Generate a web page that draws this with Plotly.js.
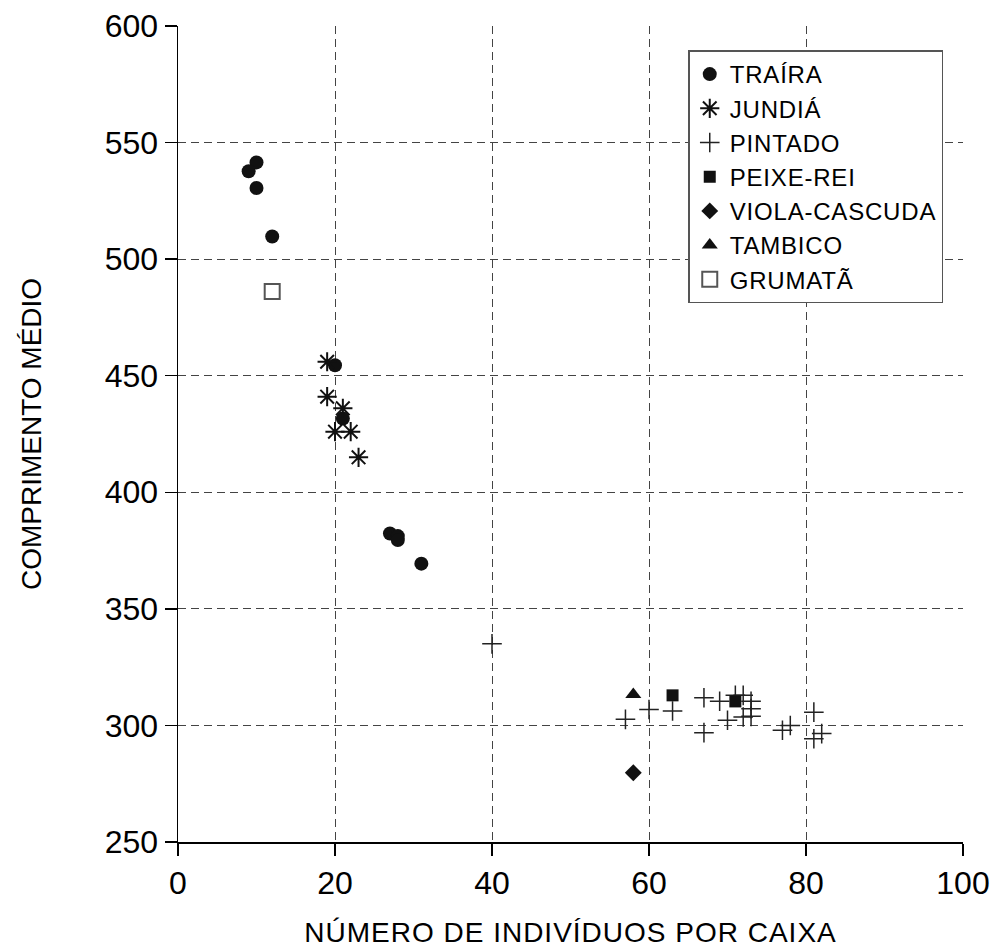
<!DOCTYPE html>
<html>
<head>
<meta charset="utf-8">
<script src="https://cdn.plot.ly/plotly-3.0.1.min.js"></script>
<style>
html,body{margin:0;padding:0;background:#fff;}
#chart{width:1003px;height:951px;}
.legendtext{letter-spacing:0.8px;}
.xtitle{letter-spacing:1px;}
</style>
</head>
<body>
<div id="chart"></div>
<script>
// ---- data ----
const trairaX = [10, 9, 10, 12, 20, 21, 27, 28, 28, 31];
const trairaY = [541.5, 537.7, 530.5, 509.7, 454.5, 431.6, 382.3, 381.2, 379.5, 369.4];

const jundiaX = [19, 19, 21, 20, 22, 23];
const jundiaY = [456, 441, 436, 426, 426, 415];

const pintadoX = [40, 57, 60, 63, 67, 67, 69, 70, 71, 72, 72, 73, 73, 73, 77, 78, 81, 81, 82];
const pintadoY = [335, 302.6, 306.8, 306.2, 311.9, 296.9, 310.4, 302.2, 312.9, 312.9, 303.6, 310.4, 307.2, 303.9, 297.9, 300, 305.7, 294.3, 296.5];

const peixeReiX = [63, 71];
const peixeReiY = [312.9, 310.3];

const violaX = [58];
const violaY = [279.7];

const tambicoX = [58];
const tambicoY = [313.3];

const grumataX = [12];
const grumataY = [486.1];

const xTicks = [0, 20, 40, 60, 80, 100];
const yTicks = [250, 300, 350, 400, 450, 500, 550, 600];

const names = ['TRAÍRA', 'JUNDIÁ', 'PINTADO', 'PEIXE-REI', 'VIOLA-CASCUDA', 'TAMBICO', 'GRUMATÃ'];

// ---- traces ----
const traces = [
  {x: trairaX, y: trairaY, name: names[0], type: 'scatter', mode: 'markers',
   marker: {symbol: 'circle', size: 14, color: '#111'}},
  {x: jundiaX, y: jundiaY, name: names[1], type: 'scatter', mode: 'markers',
   marker: {symbol: 'asterisk-open', size: 16, color: '#111', line: {color: '#111', width: 2}}},
  {x: pintadoX, y: pintadoY, name: names[2], type: 'scatter', mode: 'markers',
   marker: {symbol: 'cross-thin-open', size: 14, color: '#222', line: {color: '#222', width: 1.5}}},
  {x: peixeReiX, y: peixeReiY, name: names[3], type: 'scatter', mode: 'markers',
   marker: {symbol: 'square', size: 12, color: '#111'}},
  {x: violaX, y: violaY, name: names[4], type: 'scatter', mode: 'markers',
   marker: {symbol: 'diamond', size: 13, color: '#111'}},
  {x: tambicoX, y: tambicoY, name: names[5], type: 'scatter', mode: 'markers',
   marker: {symbol: 'triangle-up', size: 14, color: '#111'}},
  {x: grumataX, y: grumataY, name: names[6], type: 'scatter', mode: 'markers',
   marker: {symbol: 'square-open', size: 15, color: '#555', line: {color: '#555', width: 2}}}
];

const fontFam = 'Liberation Sans, Arial, sans-serif';

const layout = {
  width: 1003, height: 951,
  margin: {l: 178, r: 40, t: 26, b: 109, pad: 0},
  paper_bgcolor: '#fff', plot_bgcolor: '#fff',
  font: {family: fontFam, color: '#000'},
  showlegend: true,
  legend: {
    x: 0.65, y: 0.97, xanchor: 'left', yanchor: 'top',
    bgcolor: '#fff', bordercolor: '#555', borderwidth: 1.5,
    font: {family: fontFam, size: 24, color: '#000'},
    itemwidth: 30, tracegroupgap: 0
  },
  xaxis: {
    range: [0, 100], tickvals: xTicks, ticktext: xTicks.map(String),
    showgrid: true, gridcolor: '#444', gridwidth: 1, griddash: '8px,5px',
    zeroline: false, showline: true, linecolor: '#000', linewidth: 1.5,
    ticks: 'outside', ticklen: 12, tickcolor: '#000', tickwidth: 1.5,
    tickfont: {family: fontFam, size: 32, color: '#000'},
    title: {text: 'NÚMERO DE INDIVÍDUOS POR CAIXA', font: {family: fontFam, size: 28, color: '#000'}, standoff: 22},
    fixedrange: true
  },
  yaxis: {
    range: [250, 600], tickvals: yTicks, ticktext: yTicks.map(String),
    showgrid: true, gridcolor: '#444', gridwidth: 1, griddash: '8px,5px',
    zeroline: false, showline: true, linecolor: '#000', linewidth: 1.5,
    ticks: 'outside', ticklen: 12, tickcolor: '#000', tickwidth: 1.5,
    tickfont: {family: fontFam, size: 32, color: '#000'},
    title: {text: 'COMPRIMENTO MÉDIO', font: {family: fontFam, size: 28, color: '#000'}, standoff: 55},
    fixedrange: true
  }
};

Plotly.newPlot('chart', traces, layout, {staticPlot: true, displayModeBar: false});
</script>
</body>
</html>
